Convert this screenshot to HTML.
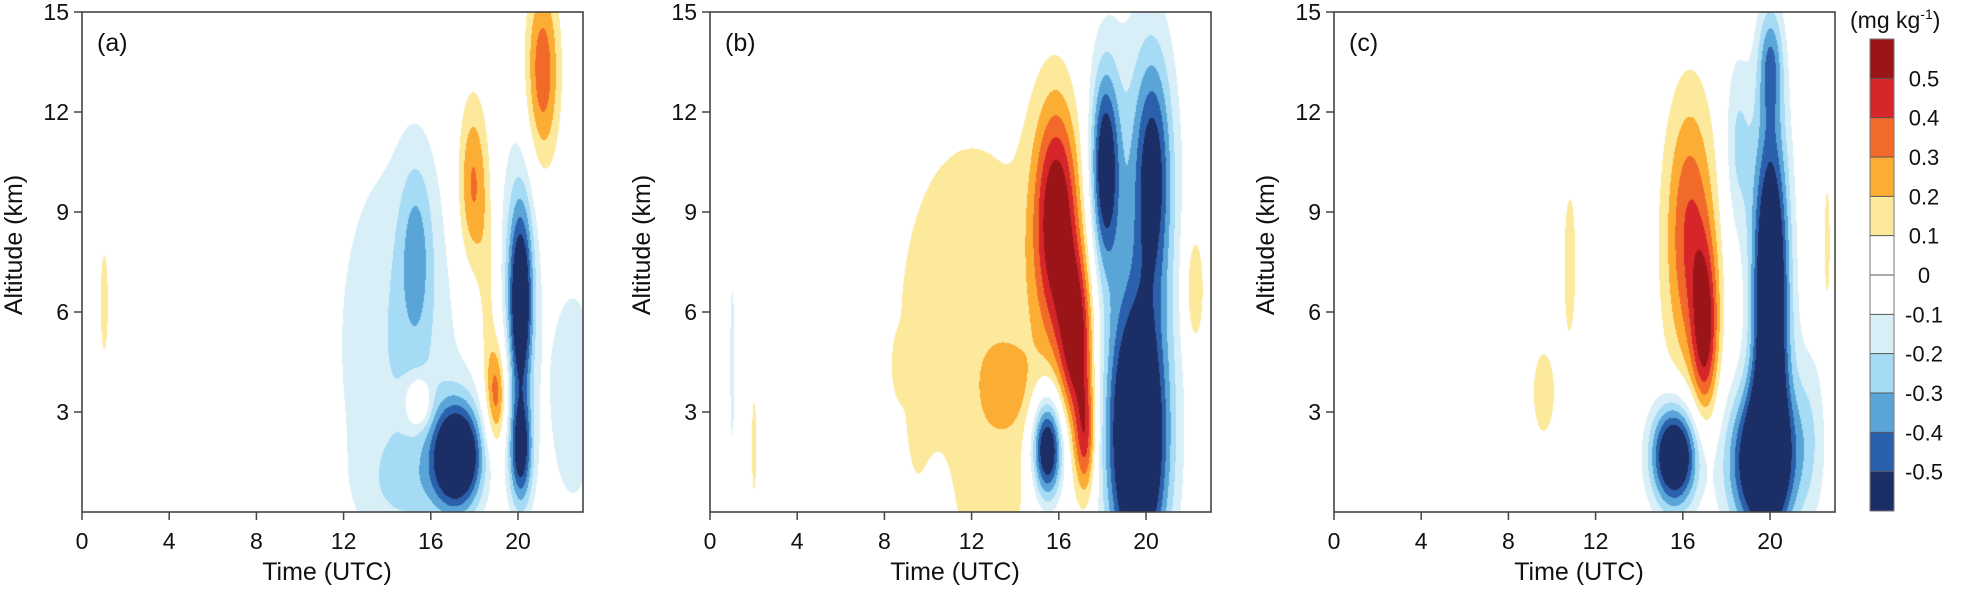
<!DOCTYPE html>
<html><head><meta charset="utf-8">
<style>
html,body{margin:0;padding:0;background:#fff;}
#wrap{position:relative;width:1966px;height:591px;overflow:hidden;font-family:"Liberation Sans",sans-serif;}
canvas{position:absolute;}
svg{position:absolute;left:0;top:0;}
</style></head>
<body>
<div id="wrap">
<canvas id="ca" width="501" height="500" style="left:82px;top:12px"></canvas>
<canvas id="cb" width="502" height="500" style="left:710px;top:12px"></canvas>
<canvas id="cc" width="502" height="500" style="left:1334px;top:12px"></canvas>
<svg id="ov" width="1966" height="591"></svg>
</div>
<script>
// ---- data: anomaly blobs (hour, km, spread-hour, spread-km, amplitude mg/kg) ----
const aHour=[1.0,21.1,17.9,18.6,19.0,20.1,20.1,17.2,15.3,14.5,15.0,15.4,22.5,20.0];
const aKm  =[6.3,13.2,9.8,6.0,3.5,6.2,1.8,1.7,7.9,5.0,0.8,3.3,3.5,8.0];
const aSh  =[0.2,0.55,0.5,0.35,0.33,0.38,0.38,0.8,0.55,2.2,1.5,0.4,1.0,0.7];
const aSk  =[1.7,2.0,1.9,2.5,1.1,2.0,1.2,1.1,2.0,4.5,1.0,0.5,3.0,3.0];
const aAmp =[0.14,0.38,0.34,0.15,0.34,-0.62,-0.55,-0.8,-0.22,-0.2,-0.12,0.3,-0.16,-0.15];

const bHour=[1.0,2.0,12.0,12.5,10.6,8.7,13.8,15.9,16.8,17.2,15.45,18.1,20.3,19.6,19.4,22.2];
const bKm  =[4.5,2.0,5.5,1.0,0.3,4.4,3.8,8.8,5.2,2.2,1.9,10.4,10.2,2.0,8.0,6.7];
const bSh  =[0.13,0.13,3.0,2.2,0.5,0.2,0.8,0.75,0.55,0.35,0.5,0.45,0.6,0.95,1.5,0.35];
const bSk  =[3.0,1.8,5.0,1.5,1.3,0.5,0.9,2.5,1.8,1.3,1.1,2.0,2.5,2.8,5.0,1.4];
const bAmp =[-0.13,0.13,0.18,0.05,-0.1,0.1,0.12,0.6,0.55,0.4,-0.75,-0.55,-0.45,-0.85,-0.22,0.22];

const cHour=[10.8,9.6,16.3,17.0,20.0,19.6,15.6,18.5,20.0,22.6,21.8,16.3];
const cKm  =[7.5,3.6,8.5,5.4,6.5,1.5,1.7,11.0,13.5,8.0,2.5,7.5];
const cSh  =[0.3,0.55,0.75,0.42,0.6,1.1,0.75,0.45,0.4,0.16,0.6,1.1];
const cSk  =[2.3,1.4,2.8,1.8,3.8,1.6,1.1,2.0,1.2,2.2,2.0,3.5];
const cAmp =[0.14,0.14,0.3,0.45,-0.85,-0.75,-0.8,-0.22,-0.3,0.13,-0.15,0.12];

const levels=[0.5,0.4,0.3,0.2,0.1,0,-0.1,-0.2,-0.3,-0.4,-0.5];
const xTicks=[0,4,8,12,16,20];
const yTicks=[3,6,9,12,15];
const panelLabels=["(a)","(b)","(c)"];

const colors=['#9B1518','#D7262A','#F26A2A','#FCAD33','#FCE99C','#FFFFFF','#FFFFFF','#D9EFF8','#A5DBF5','#5AA5D8','#2B61AC','#1B2E66'];
const rgb=colors.map(c=>[parseInt(c.substr(1,2),16),parseInt(c.substr(3,2),16),parseInt(c.substr(5,2),16)]);
function colorIdx(v){for(let i=0;i<levels.length;i++){if(v>levels[i])return i;}return levels.length;}

const PX_H=21.8, PX_K=500/15;
function draw(id,H,K,SH,SK,A){
  const cv=document.getElementById(id),ctx=cv.getContext('2d');
  const w=cv.width,h=cv.height,img=ctx.createImageData(w,h);
  for(let py=0;py<h;py++){const km=(h-py)/PX_K;
    for(let px=0;px<w;px++){const hr=px/PX_H;let v=0;
      for(let i=0;i<H.length;i++){const dx=(hr-H[i])/SH[i],dy=(km-K[i])/SK[i];v+=A[i]*Math.exp(-0.5*(dx*dx+dy*dy));}
      let ci=colorIdx(v); const c=rgb[ci],o=(py*w+px)*4;
      img.data[o]=c[0];img.data[o+1]=c[1];img.data[o+2]=c[2];img.data[o+3]=255;}}
  ctx.putImageData(img,0,0);
}
draw('ca',aHour,aKm,aSh,aSk,aAmp);
draw('cb',bHour,bKm,bSh,bSk,bAmp);
draw('cc',cHour,cKm,cSh,cSk,cAmp);

const NS='http://www.w3.org/2000/svg',ov=document.getElementById('ov');
function mk(tag,at,txt){const e=document.createElementNS(NS,tag);for(const k in at)e.setAttribute(k,at[k]);if(txt!==undefined)e.textContent=txt;ov.appendChild(e);return e;}
const panelX=[82,710,1334], plotTop=12, plotBot=512, plotW=501;
const xs=h=>h*PX_H, ys=k=>plotBot-k*PX_K;
panelX.forEach((x0,p)=>{
  let e=mk('rect',{x:x0,y:plotTop,width:plotW,height:plotBot-plotTop,fill:'none',stroke:'#444','stroke-width':1.6});
  
  
  xTicks.forEach(t=>{const x=x0+xs(t);
    e=mk('line',{x1:x,x2:x,y1:plotBot,y2:plotBot+8,stroke:'#444','stroke-width':1.5});
    
    
    e=mk('text',{x:x,y:549,'font-size':23,'text-anchor':'middle',fill:'#111'},t);
    
    });
  yTicks.forEach(t=>{const y=ys(t);
    e=mk('line',{x1:x0-8,x2:x0,y1:y,y2:y,stroke:'#444','stroke-width':1.5});
    
    
    e=mk('text',{x:x0-13,y:y+8,'font-size':23,'text-anchor':'end',fill:'#111'},t);
    
    });
  e=mk('text',{x:x0+245,y:580,'font-size':25,'text-anchor':'middle',fill:'#111'},'Time (UTC)');
  
  
  e=mk('text',{x:0,y:0,'font-size':25,'text-anchor':'middle',fill:'#111',transform:`translate(${x0-60},245) rotate(-90)`},'Altitude (km)');
  
  
  e=mk('text',{x:x0+15,y:51,'font-size':25,fill:'#111'},panelLabels[p]);
  
  
});
// colorbar
const cbX=1870,cbW=24,cbTop=39,cbH=472/colors.length;
colors.forEach((c,i)=>{const e=mk('rect',{x:cbX,y:cbTop+i*cbH,width:cbW,height:cbH,fill:c});
  
  });
levels.forEach((l,i)=>{const y=cbTop+(i+1)*cbH;
  let e=mk('line',{x1:cbX,x2:cbX+cbW,y1:y,y2:y,stroke:'#555','stroke-width':1});
  
  
  e=mk('text',{x:1924,y:y+8,'font-size':22,'text-anchor':'middle',fill:'#111'},l);
  
  });
let cbf=mk('rect',{x:cbX,y:cbTop,width:cbW,height:472,fill:'none',stroke:'#777','stroke-width':1});


const unit=mk('text',{x:1850,y:28,'font-size':23,fill:'#111'});


const t1=document.createElementNS(NS,'tspan');t1.textContent='(mg kg';unit.appendChild(t1);
const t2=document.createElementNS(NS,'tspan');t2.setAttribute('dy','-9');t2.setAttribute('font-size','14');t2.textContent='-1';unit.appendChild(t2);
const t3=document.createElementNS(NS,'tspan');t3.setAttribute('dy','9');t3.textContent=')';unit.appendChild(t3);
</script>
</body></html>
